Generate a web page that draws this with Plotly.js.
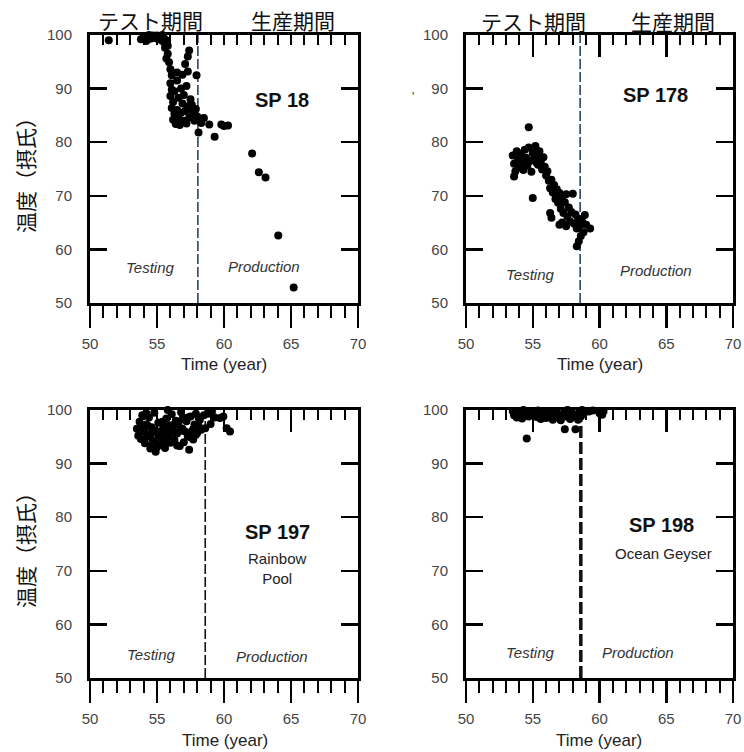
<!DOCTYPE html>
<html><head><meta charset="utf-8">
<script src="https://cdn.plot.ly/plotly-3.0.1.min.js"></script>
<style>html,body{margin:0;padding:0;background:#fff;}#chart{width:744px;height:752px;}</style>
</head><body><div id="chart"></div>
<script>
// ---- data ----
const sp18_x = [51.4,53.7,53.9,54.0,54.1,54.2,54.3,54.4,54.5,54.6,54.7,54.8,54.9,55.0,55.1,55.2,55.3,55.4,55.5,55.6,55.7,55.8,53.8,54.2,55.4,
  55.6,55.8,55.7,55.9,56.0,56.1,56.0,56.1,56.0,56.2,56.1,56.3,56.2,56.4,56.5,56.6,56.7,56.8,56.9,57.0,57.1,57.2,57.3,57.4,57.5,57.6,57.7,57.8,57.9,58.0,
  56.6,56.8,56.5,56.9,57.3,57.1,57.3,57.4,56.5,56.3,57.0,57.6,58.3,58.5,58.9,59.8,60.0,60.3,58.1,59.3,62.1,62.6,63.1,64.05,65.2,57.95,57.2];
const sp18_y = [99.0,100.5,100.8,99.8,100.3,99.5,100.9,100.0,99.3,100.6,99.9,100.2,99.4,99.9,100.4,99.2,99.7,98.9,99.5,98.4,99.0,98.0,99.2,98.9,100.0,
  97.6,96.5,95.6,94.9,93.6,92.5,91.0,89.8,88.6,87.5,86.4,85.3,84.2,83.4,86.0,84.5,83.2,85.5,87.2,84.0,85.8,83.5,86.7,84.6,88.0,87.0,85.0,84.0,86.2,84.8,
  88.3,90.0,91.5,92.6,93.2,94.6,96.0,97.1,93.0,89.5,88.8,85.9,83.6,84.5,83.3,83.3,83.0,83.1,81.8,81.0,77.9,74.4,73.4,62.6,52.9,92.5,90.5];

const sp178_x = [54.7,53.5,53.6,53.7,53.6,53.8,53.9,54.0,54.1,54.2,54.3,54.4,54.5,54.6,54.7,54.8,54.9,55.0,55.1,55.2,55.3,55.4,55.5,55.6,55.7,55.8,55.9,56.0,55.0,
  56.1,56.2,56.3,56.4,56.5,56.6,56.7,56.8,56.9,57.0,57.1,57.2,57.3,57.4,57.5,57.6,57.7,57.8,57.9,58.0,58.1,58.2,58.3,58.4,58.5,58.6,58.3,58.45,58.8,58.9,59.3,
  56.3,56.4,57.0,57.5,57.2,58.7,59.0,56.6,55.3,54.4];
const sp178_y = [82.8,77.5,76.0,74.6,73.6,78.3,76.8,75.3,77.8,76.2,74.8,78.6,77.1,75.6,79.0,76.5,74.5,78.0,76.9,79.3,77.5,75.8,78.3,76.4,74.9,77.2,75.4,73.8,69.6,
  74.6,72.8,71.4,73.0,70.6,72.0,69.4,71.2,68.7,70.5,67.6,69.8,66.8,68.8,70.3,66.1,67.8,65.2,67.0,70.4,64.8,66.5,63.9,65.7,64.4,62.5,60.6,61.5,63.2,66.4,63.9,
  66.8,65.9,64.6,64.3,65.0,65.2,64.6,71.2,76.1,76.0];

const sp197_x = [53.5,53.6,53.7,53.8,53.9,54.0,54.1,54.2,54.3,54.4,54.5,54.6,54.7,54.8,54.9,55.0,55.1,55.2,55.3,55.4,55.5,55.6,55.7,55.8,55.9,56.0,56.1,56.2,56.3,56.4,
  56.5,56.6,56.7,56.8,56.9,57.0,57.1,57.2,57.3,57.4,57.5,57.6,57.7,57.8,57.9,58.0,58.1,58.2,58.3,58.5,58.6,58.8,59.0,59.1,59.3,59.7,59.95,60.2,60.45,
  53.9,54.1,54.3,54.5,54.7,54.9,55.1,55.3,55.5,55.7,55.9,56.1,56.3,56.5,56.7,56.9,57.1,57.3,57.5,57.7,57.9,58.1,54.6,55.0,55.4,56.0,54.2,55.8,56.6];
const sp197_y = [96.5,95.2,97.8,94.6,99.0,96.0,93.8,97.3,95.0,98.6,92.8,96.8,94.2,99.5,92.2,95.8,97.6,93.5,100.2,94.8,96.9,92.9,98.4,95.3,97.1,93.9,99.2,96.2,94.4,98.0,
  95.6,97.4,93.3,99.6,96.5,94.0,101.2,97.9,95.1,92.6,98.8,96.0,94.5,97.3,99.3,95.7,97.0,98.2,96.3,99.0,96.6,99.3,97.4,99.7,98.6,98.5,98.8,96.6,96.0,
  97.0,95.9,97.1,95.4,96.3,94.1,95.2,96.1,93.9,96.0,94.7,95.8,97.3,93.4,96.1,98.3,96.0,98.6,94.9,96.4,95.4,98.6,93.4,93.1,97.8,97.1,99.4,100.0,100.3];

const sp198_x = [53.5,53.6,53.7,53.8,53.9,54.0,54.1,54.2,54.3,54.4,54.55,54.6,54.7,54.8,54.9,55.0,55.1,55.24,55.3,55.4,55.5,55.6,55.7,55.8,55.9,56.0,56.1,56.3,56.4,56.5,
  56.6,56.7,56.8,56.9,57.0,57.1,57.2,57.3,57.4,57.5,57.6,57.7,57.8,57.9,58.0,58.1,58.2,58.3,58.4,58.5,58.6,58.7,58.8,59.0,59.2,59.5,60.0,60.2,60.3,
  54.2,55.0,56.2,57.0,58.0];
const sp198_y = [99.8,99.0,100.3,98.6,99.5,100.6,99.1,98.4,100.0,99.3,94.7,100.8,98.8,99.7,101.0,99.2,100.4,102.5,98.7,99.9,100.9,98.3,99.5,100.6,99.0,98.5,100.2,102.0,99.3,98.2,
  100.5,99.6,98.6,100.1,99.0,98.1,100.3,99.4,96.4,98.8,100.0,99.2,98.3,99.8,98.7,100.2,96.4,99.1,98.2,99.6,98.8,100.0,99.3,101.4,99.7,99.9,99.4,99.1,99.7,
  99.8,100.1,99.4,100.6,100.2];

const productionStart = [58.05, 58.55, 58.6, 58.6];
const xTicks = [50, 55, 60, 65, 70];
const yTicks = [50, 60, 70, 80, 90, 100];
const panelNames = ['SP 18', 'SP 178', 'SP 197', 'SP 198'];
const panelSubtitles = ['', '', 'Rainbow<br>Pool', 'Ocean Geyser'];
const yTitle = '温度（摂氏）';
const xTitle = 'Time (year)';
const testLabel = 'テスト期間';
const prodLabel = '生産期間';

// ---- layout ----
const W = 744, H = 752;
const xd = [[90/W, 358/W], [466/W, 733/W], [90/W, 358/W], [466/W, 733/W]];
const yd = [[(H-303)/H, (H-35)/H], [(H-303)/H, (H-35)/H], [(H-678)/H, (H-410)/H], [(H-678)/H, (H-410)/H]];
const series = [[sp18_x, sp18_y], [sp178_x, sp178_y], [sp197_x, sp197_y], [sp198_x, sp198_y]];

const tickFont = {family: 'Liberation Sans, Arial, sans-serif', size: 15, color: '#444'};
const layout = {
  width: W, height: H, margin: {l: 0, r: 0, t: 0, b: 0},
  paper_bgcolor: '#fff', plot_bgcolor: '#fff', showlegend: false,
  shapes: [], annotations: []
};
const data = [];
const topMajorLen = [10, 22, 22, 22];

for (let i = 0; i < 4; i++) {
  const n = i + 1;
  const xk = 'xaxis' + (n === 1 ? '' : n), yk = 'yaxis' + (n === 1 ? '' : n);
  const xr = 'x' + (n === 1 ? '' : n), yr = 'y' + (n === 1 ? '' : n);
  layout[xk] = {
    domain: xd[i], anchor: yr, range: [50, 70], showgrid: false, zeroline: false,
    showline: true, linewidth: 3, linecolor: '#000', mirror: true,
    tickmode: 'array', tickvals: xTicks, ticktext: xTicks.map(String),
    ticks: 'outside', ticklen: 22, tickwidth: 2.5, tickcolor: '#000', ticklabelstandoff: 3,
    minor: {dtick: 1, ticks: 'outside', ticklen: 12, tickwidth: 2, tickcolor: '#000', showgrid: false},
    tickfont: tickFont, fixedrange: true
  };
  layout[yk] = {
    domain: yd[i], anchor: xr, range: [50, 100], showgrid: false, zeroline: false,
    showline: true, linewidth: 3, linecolor: '#000', mirror: 'ticks',
    tickmode: 'array', tickvals: yTicks, ticktext: yTicks.map(String),
    ticks: 'inside', ticklen: 17, tickwidth: 2.5, tickcolor: '#000', ticklabelstandoff: 12,
    tickfont: tickFont, fixedrange: true
  };
  // top axis with inward ticks
  const tn = n + 4;
  const xt = 'x' + tn;
  layout['xaxis' + tn] = {
    overlaying: xr, anchor: yr, side: 'top', range: [50, 70], showgrid: false, zeroline: false,
    showline: false, showticklabels: false,
    tickmode: 'array', tickvals: xTicks,
    ticks: 'inside', ticklen: topMajorLen[i], tickwidth: 2.5, tickcolor: '#000',
    minor: {dtick: 1, ticks: 'inside', ticklen: 10, tickwidth: 2, tickcolor: '#000', showgrid: false},
    fixedrange: true
  };
  const dashColor = i < 2 ? '#2a4560' : '#111';
  layout.shapes.push({
    type: 'line', xref: xr, yref: yr + ' domain', x0: productionStart[i], x1: productionStart[i], y0: 0, y1: 1,
    layer: 'below',
    line: {color: dashColor, width: i === 3 ? 3.5 : 1.6, dash: i === 3 ? '12px,4px' : '10px,3px'}
  });
  // invisible copy so the top tick axis is rendered
  data.push({
    type: 'scatter', mode: 'markers', x: series[i][0], y: series[i][1],
    xaxis: xt, yaxis: yr, marker: {opacity: 0, size: 1}, hoverinfo: 'skip'
  });
  data.push({
    type: 'scatter', mode: 'markers', x: series[i][0], y: series[i][1],
    xaxis: xr, yaxis: yr, cliponaxis: false,
    marker: {color: '#000', size: 8, line: {width: 0}}, hoverinfo: 'x+y'
  });
}

// panel texts (positions in data coords)
const labelPos = [
  {sp: [64.33, 87.9], sub: null, t: [54.48, 56.7], p: [62.99, 56.9]},
  {sp: [64.16, 88.8], sub: null, t: [54.79, 55.4], p: [64.23, 56.0]},
  {sp: [63.96, 77.2], sub: [63.96, 70.5], t: [54.55, 54.3], p: [63.58, 54.1]},
  {sp: [64.61, 78.5], sub: [64.76, 73.3], t: [54.79, 54.7], p: [62.88, 54.7]}
];
const bodyFont = 'Liberation Sans, Arial, sans-serif';
for (let i = 0; i < 4; i++) {
  const n = i + 1, xr = 'x' + (n === 1 ? '' : n), yr = 'y' + (n === 1 ? '' : n);
  const L = labelPos[i];
  layout.annotations.push({xref: xr, yref: yr, x: L.sp[0], y: L.sp[1], text: '<b>' + panelNames[i] + '</b>', showarrow: false,
    font: {family: bodyFont, size: 20, color: '#111'}});
  if (L.sub) layout.annotations.push({xref: xr, yref: yr, x: L.sub[0], y: L.sub[1], text: panelSubtitles[i], showarrow: false,
    font: {family: bodyFont, size: 15, color: '#222'}});
  layout.annotations.push({xref: xr, yref: yr, x: L.t[0], y: L.t[1], text: '<i>Testing</i>', showarrow: false,
    font: {family: bodyFont, size: 15, color: '#333'}});
  layout.annotations.push({xref: xr, yref: yr, x: L.p[0], y: L.p[1], text: '<i>Production</i>', showarrow: false,
    font: {family: bodyFont, size: 15, color: '#333'}});
}
const cjk = 'Noto Sans CJK JP, sans-serif';
const hdr = [[150, 20, testLabel], [293, 20, prodLabel], [533, 21, testLabel], [673, 21, prodLabel]];
hdr.forEach(h => layout.annotations.push({xref: 'paper', yref: 'paper', x: h[0]/W, y: 1 - h[1]/H, text: h[2],
  showarrow: false, font: {family: cjk, size: 21, color: '#111'}, xanchor: 'center', yanchor: 'middle'}));
[[25, 170], [25, 545]].forEach(p => layout.annotations.push({xref: 'paper', yref: 'paper', x: p[0]/W, y: 1 - p[1]/H,
  text: yTitle, textangle: -90, showarrow: false, font: {family: cjk, size: 21, color: '#111'}, xanchor: 'center', yanchor: 'middle'}));
[[224, 364], [600, 364], [225, 740], [599, 740]].forEach(p => layout.annotations.push({xref: 'paper', yref: 'paper',
  x: p[0]/W, y: 1 - p[1]/H, text: xTitle, showarrow: false, font: {family: bodyFont, size: 17, color: '#222'},
  xanchor: 'center', yanchor: 'middle'}));
layout.annotations.push({xref: 'paper', yref: 'paper', x: 413/W, y: 1 - 88/H, text: "'", showarrow: false,
  font: {family: bodyFont, size: 12, color: '#333'}});

Plotly.newPlot('chart', data, layout, {staticPlot: true, displayModeBar: false});
</script></body></html>
